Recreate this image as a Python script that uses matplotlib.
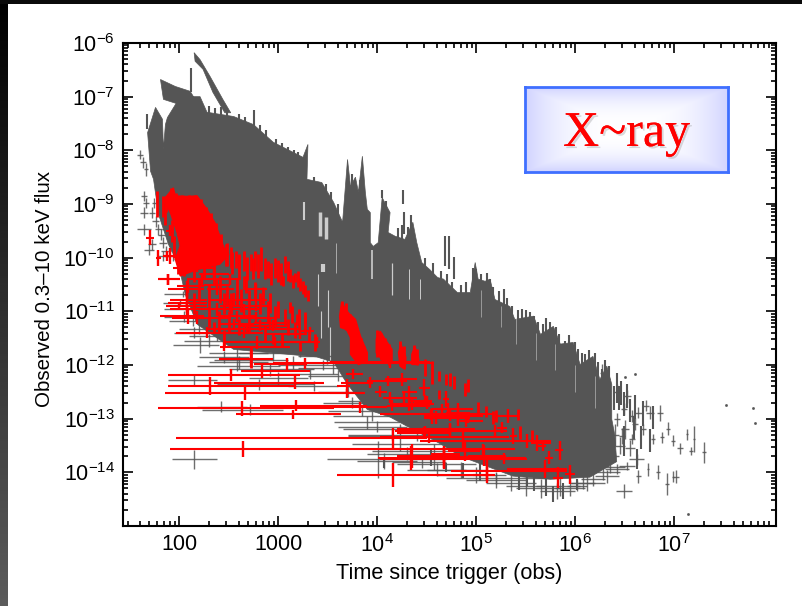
import numpy as np
import matplotlib.pyplot as plt
from matplotlib import patheffects as pe
from matplotlib.ticker import FixedLocator, NullFormatter

plt.rcParams["font.family"] = ["Liberation Sans", "DejaVu Sans"]
plt.rcParams["mathtext.fontset"] = "custom"
plt.rcParams["mathtext.rm"] = "Liberation Sans"
plt.rcParams["mathtext.default"] = "rm"

# all values below are log10(time) and log10(flux)
x_ticks = [2, 3, 4, 5, 6, 7]
x_labels = ["100", "1000", "$10^{4}$", "$10^{5}$", "$10^{6}$", "$10^{7}$"]
y_ticks = [-6, -7, -8, -9, -10, -11, -12, -13, -14]
y_labels = ["$10^{-%d}$" % (-v) for v in y_ticks]

# gray mass outline
mass = [(1.68, -7.67), (1.76, -7.20), (1.83, -7.42), (1.84, -7.98), (1.86, -7.52), (1.88, -7.39),
        (2.01, -7.00), (2.21, -7.00), (2.28, -7.29), (2.55, -7.37), (2.75, -7.52), (2.95, -7.85),
        (3.25, -8.13), (3.30, -7.89), (3.29, -8.54), (3.44, -8.60), (3.56, -8.97), (3.65, -9.34),
        (3.70, -8.17), (3.73, -8.67), (3.78, -8.50), (3.81, -8.78), (3.85, -8.11), (3.88, -8.78),
        (3.90, -9.10), (3.93, -9.16), (3.93, -9.72), (3.96, -9.79), (4.01, -9.72), (4.05, -8.88),
        (4.13, -9.16), (4.11, -9.53), (4.18, -9.60), (4.28, -9.66), (4.36, -9.34), (4.40, -9.72),
        (4.45, -10.09), (4.53, -10.22), (4.61, -10.37), (4.67, -10.40), (4.81, -10.65), (4.94, -10.65),
        (4.99, -10.09), (5.02, -10.40), (5.09, -10.44), (5.14, -10.40), (5.19, -10.78), (5.34, -10.91),
        (5.39, -11.15), (5.58, -11.09), (5.65, -11.43), (5.78, -11.28), (5.85, -11.61), (5.98, -11.58),
        (6.05, -11.99), (6.18, -11.84), (6.25, -12.27), (6.32, -12.02), (6.37, -12.36), (6.37, -13.01),
        (6.40, -13.3), (6.42, -13.8), (6.15, -14.09), (5.75, -14.13), (5.37, -14.07), (5.14, -13.91),
        (4.84, -13.70), (4.64, -13.47), (4.36, -13.20), (4.13, -12.97), (3.90, -12.83), (3.70, -12.36),
        (3.56, -11.95), (3.39, -11.85), (2.55, -11.71), (2.18, -11.24), (2.06, -10.68), (1.99, -10.12),
        (1.89, -9.75), (1.79, -9.19), (1.74, -8.54), (1.71, -8.39)]
burst_top = [(2.15, -6.18), (2.21, -6.31), (2.31, -6.62), (2.44, -7.05), (2.52, -7.30), (2.46, -7.30),
             (2.34, -6.92), (2.24, -6.49), (2.16, -6.34)]
burst_left = [(1.81, -6.68), (1.96, -6.81), (2.11, -6.90), (2.16, -7.05), (2.01, -7.15), (1.84, -7.05)]

# gray vertical streaks: t, low, high
gray_streaks = [(2.12, -6.46, -6.92), (1.67, -7.33, -7.61), (4.27, -9.15, -9.55), (4.26, -8.73, -9.0),
                (4.68, -9.6, -10.16), (4.73, -9.6, -10.22), (4.78, -9.98, -10.4), (4.05, -8.73, -8.88),
                (5.0, -10.22, -10.59), (5.14, -10.4, -10.71), (5.28, -10.59, -11.02), (5.36, -10.9, -11.33),
                (5.46, -10.96, -11.4), (5.58, -11.09, -11.58), (5.71, -11.12, -11.65), (5.81, -11.3, -11.77),
                (5.9, -11.55, -11.96), (6.0, -11.58, -12.02), (6.1, -11.8, -12.2), (6.2, -11.77, -12.27),
                (6.27, -12.08, -12.58), (6.34, -12.02, -12.52), (6.39, -12.39, -12.83), (6.44, -12.39, -12.83),
                (6.49, -12.51, -12.95), (6.55, -12.64, -13.07), (6.69, -12.67, -13.13), (6.79, -12.76, -13.2),
                (6.59, -12.95, -13.38), (6.67, -13.13, -13.57), (6.76, -13.2, -13.63), (6.49, -13.13, -13.7),
                (6.62, -13.57, -13.94), (5.43, -14.0, -14.32), (5.58, -14.07, -14.35), (5.78, -14.25, -14.56),
                (5.04, -13.76, -14.16), (4.87, -13.82, -14.1), (4.7, -13.82, -14.0), (4.54, -13.57, -13.88),
                (4.07, -13.72, -13.91), (5.51, -14.07, -14.25), (5.71, -14.07, -14.44), (5.88, -14.19, -14.5),
                (6.02, -14.13, -14.32),
                (2.30, -7.18, -7.5), (2.36, -7.22, -7.5), (2.42, -7.2, -7.5), (2.48, -7.26, -7.5), (2.6, -7.32, -7.6),
                (2.66, -7.38, -7.7), (2.76, -7.24, -7.6), (2.82, -7.52, -7.8), (2.88, -7.62, -7.9), (2.98, -7.78, -8.0),
                (3.04, -7.86, -8.1), (3.1, -7.94, -8.2), (3.16, -8.0, -8.2), (3.2, -8.04, -8.25),
                (3.36, -8.5, -8.8), (3.48, -8.62, -9.0), (3.53, -8.78, -9.1), (3.6, -9.0, -9.3),
                (3.75, -8.45, -8.8), (3.83, -8.55, -8.9), (4.09, -8.95, -9.3), (4.21, -9.45, -9.8), (4.25, -9.4, -9.8),
                (4.31, -9.42, -9.8), (4.34, -9.2, -9.6), (4.48, -10.0, -10.4), (4.56, -10.1, -10.5), (4.64, -10.25, -10.6),
                (4.71, -10.3, -10.7), (4.76, -10.45, -10.8), (4.85, -10.5, -10.85), (4.9, -10.45, -10.85),
                (4.97, -10.2, -10.7), (5.05, -10.3, -10.7), (5.11, -10.28, -10.7), (5.17, -10.55, -10.9),
                (5.23, -10.62, -11.0), (5.31, -10.75, -11.1), (5.42, -10.98, -11.4), (5.5, -10.98, -11.4),
                (5.54, -11.02, -11.4), (5.62, -11.2, -11.6), (5.68, -11.24, -11.6), (5.75, -11.2, -11.6),
                (5.84, -11.42, -11.8), (5.94, -11.45, -11.85), (6.03, -11.7, -12.1), (6.07, -11.78, -12.2),
                (6.14, -11.72, -12.2), (6.23, -11.95, -12.4), (6.3, -11.9, -12.4), (6.42, -12.15, -12.7),
                (6.46, -12.3, -12.75), (6.52, -12.35, -12.8), (6.6, -12.55, -13.0)]

# gray crosses: t, flux, left, right, half height
gray_crosses = [(6.52, -12.58, 6.48, 6.56, .12), (6.64, -12.89, 6.59, 6.69, .1), (6.76, -12.89, 6.72, 6.8, .12),
                (6.86, -12.89, 6.83, 6.89, .15), (6.94, -13.19, 6.92, 6.96, .12), (6.99, -13.41, 6.97, 7.01, .1),
                (7.06, -13.55, 7.03, 7.09, .1), (7.13, -13.29, 7.12, 7.14, .1), (7.20, -13.38, 7.19, 7.21, .25),
                (7.17, -13.60, 7.15, 7.19, .08), (7.30, -13.63, 7.28, 7.32, .2), (6.74, -13.94, 6.73, 6.75, .12),
                (6.84, -14.0, 6.82, 6.86, .13), (6.93, -14.22, 6.91, 6.95, .2), (6.99, -14.08, 6.98, 7.0, .1),
                (7.02, -14.08, 6.99, 7.05, .12), (6.49, -14.35, 6.41, 6.57, .13), (5.82, -14.35, 5.64, 6.0, .15),
                (6.64, -14.07, 6.61, 6.67, .12), (6.57, -13.38, 6.54, 6.6, .1), (6.69, -13.2, 6.66, 6.72, .1),
                (6.79, -13.38, 6.77, 6.81, .1), (6.88, -13.35, 6.86, 6.9, .1), (6.47, -13.32, 6.44, 6.5, .15),
                (6.39, -13.7, 6.34, 6.44, .1), (6.52, -13.88, 6.44, 6.6, .08), (6.62, -13.76, 6.54, 6.7, .1),
                (6.42, -13.94, 6.3, 6.54, .1), (6.32, -14.07, 6.2, 6.44, .12), (6.18, -14.13, 6.06, 6.3, .13),
                (6.08, -14.19, 5.96, 6.2, .12), (6.02, -14.25, 5.92, 6.12, .1), (6.32, -12.27, 6.29, 6.35, .15),
                (6.42, -12.51, 6.39, 6.45, .15), (6.27, -12.14, 6.25, 6.29, .15), (6.49, -12.82, 6.46, 6.52, .12),
                (6.57, -12.95, 6.54, 6.6, .12), (6.35, -13.2, 6.32, 6.38, .15), (6.42, -13.01, 6.39, 6.45, .12),
                (6.72, -12.76, 6.69, 6.75, .1), (6.22, -13.88, 6.1, 6.34, .1),
                (2.15, -13.76, 1.93, 2.38, .17), (2.42, -12.78, 2.18, 2.68, .1), (2.71, -12.83, 2.23, 3.05, .1),
                (2.145, -12.28, 1.89, 2.38, .1), (2.81, -12.36, 2.38, 3.36, .1), (2.58, -12.02, 2.18, 3.02, .1),
                (2.92, -12.08, 2.5, 3.36, .12), (3.32, -12.17, 3.0, 3.6, .1), (3.36, -12.39, 3.1, 3.6, .1),
                (4.01, -13.76, 3.49, 4.7, .35), (4.07, -13.79, 3.8, 4.4, .15), (3.9, -13.07, 3.56, 4.23, .12),
                (4.23, -13.2, 3.65, 4.8, .1), (4.4, -13.32, 3.7, 5.0, .1), (4.23, -13.48, 3.75, 4.7, .12),
                (4.57, -13.6, 3.95, 5.0, .12), (4.57, -13.85, 4.2, 5.0, .1), (3.9, -12.67, 3.6, 4.2, .1),
                (2.21, -11.62, 1.94, 2.4, .15), (5.2, -14.11, 4.7, 5.71, .1),
                (1.64, -8.85, 1.61, 1.67, .1), (1.66, -8.98, 1.63, 1.69, .1), (1.64, -9.16, 1.6, 1.68, .1),
                (1.64, -9.47, 1.57, 1.71, .1), (1.69, -9.85, 1.64, 1.74, .1), (1.72, -9.75, 1.68, 1.76, .1),
                (1.72, -9.16, 1.69, 1.75, .1), (1.76, -9.32, 1.72, 1.8, .1), (1.79, -9.47, 1.75, 1.83, .1),
                (1.82, -9.57, 1.78, 1.86, .1), (1.84, -9.72, 1.8, 1.88, .1), (1.87, -9.88, 1.82, 1.92, .1),
                (1.94, -9.97, 1.88, 2.0, .1), (1.84, -9.97, 1.78, 1.9, .1), (1.87, -9.47, 1.83, 1.91, .1),
                (1.94, -9.78, 1.9, 1.98, .1), (1.74, -8.98, 1.72, 1.76, .1), (2.01, -10.03, 1.95, 2.07, .1),
                (1.60, -8.08, 1.57, 1.63, .08), (1.63, -8.22, 1.6, 1.66, .1), (1.66, -8.35, 1.64, 1.68, .12),
                (2.04, -10.68, 1.85, 2.3, .06), (2.01, -10.84, 1.84, 2.25, .06), (2.08, -10.96, 1.85, 2.35, .08),
                (2.14, -11.18, 1.9, 2.4, .1), (2.2, -11.33, 2.0, 2.5, .1), (2.38, -11.46, 2.1, 2.7, .1),
                (2.58, -11.77, 2.3, 2.9, .15), (2.95, -11.77, 2.6, 3.3, .15), (2.72, -11.9, 2.35, 3.1, .12),
                (3.22, -11.71, 2.9, 3.5, .15), (3.15, -11.96, 2.75, 3.5, .12), (3.49, -11.83, 3.2, 3.6, .15),
                (6.40, -13.3, 6.36, 6.44, .2), (6.45, -13.5, 6.4, 6.5, .15), (6.5, -13.2, 6.46, 6.54, .18),
                (6.55, -13.55, 6.5, 6.6, .15), (6.6, -13.1, 6.57, 6.63, .12), (6.35, -13.9, 6.2, 6.5, .12),
                (6.28, -14.0, 6.1, 6.45, .15), (6.12, -14.2, 5.95, 6.3, .15), (5.95, -14.3, 5.8, 6.1, .15),
                (5.85, -14.25, 5.6, 6.05, .2), (5.65, -14.3, 5.4, 5.85, .18), (5.5, -14.25, 5.3, 5.7, .2),
                (5.35, -14.2, 5.1, 5.6, .15), (5.2, -14.15, 4.9, 5.5, .15), (5.0, -14.05, 4.6, 5.3, .15),
                (4.85, -13.95, 4.5, 5.1, .15), (4.6, -13.95, 4.3, 4.9, .12), (4.45, -13.8, 4.15, 4.7, .12),
                (4.3, -13.65, 3.9, 4.6, .12), (4.15, -13.3, 3.7, 4.5, .1), (4.0, -13.15, 3.6, 4.3, .1),
                (3.95, -12.95, 3.55, 4.2, .1), (3.85, -12.85, 3.5, 4.1, .1), (3.75, -12.7, 3.45, 4.0, .1),
                (3.7, -12.5, 3.4, 3.95, .1), (3.6, -12.2, 3.3, 3.85, .1), (3.55, -12.05, 3.2, 3.8, .12),
                (3.45, -12.0, 3.0, 3.7, .1), (3.0, -12.25, 2.7, 3.3, .12), (2.6, -11.95, 2.3, 2.9, .12),
                (2.45, -11.85, 2.2, 2.7, .12), (2.3, -11.55, 2.05, 2.6, .12), (2.15, -11.4, 1.95, 2.4, .1),
                (2.05, -11.1, 1.85, 2.3, .1)]

# pale slits inside the gray mass: t, low, high, width
gaps = [(3.26, -8.97, -9.29, 1.5), (3.42, -9.15, -9.6, 2.5), (3.48, -9.25, -9.65, 2.5), (3.45, -10.12, -10.26, 3.0),
        (3.40, -10.3, -10.9, .8), (3.5, -10.6, -11.3, .8), (3.43, -11.0, -11.5, .8), (3.52, -11.3, -11.9, .8),
        (3.95, -9.85, -10.4, 1.2), (4.15, -10.1, -10.7, .9), (4.32, -10.22, -10.77, .7), (4.43, -10.4, -10.77, .7),
        (3.58, -9.72, -10.28, .5), (5.4, -11.1, -11.6, .4), (5.6, -11.4, -11.9, .4), (5.8, -11.6, -12.1, .4),
        (6.0, -12.0, -12.5, .4), (6.2, -12.2, -12.8, .4), (5.25, -10.9, -11.3, .4), (5.05, -10.6, -11.1, .4)]

# stray points
dots_t = [6.50, 6.60, 7.52, 7.80, 7.82, 7.14]
dots_f = [-12.22, -12.17, -12.75, -12.80, -13.09, -14.78]

# red dense parts
red_clump = [(1.84, -8.91), (1.86, -8.88), (1.94, -8.70), (1.96, -8.85), (2.08, -8.86), (2.18, -8.85),
             (2.28, -9.10), (2.36, -9.35), (2.41, -9.60), (2.45, -9.81), (2.50, -9.94), (2.41, -10.12),
             (2.18, -10.22), (2.01, -10.34), (1.96, -10.03), (2.01, -9.78), (1.98, -9.54), (1.91, -9.16)]
red_strand1 = [(3.64, -10.84), (3.71, -11.03), (3.78, -11.15), (3.83, -11.46), (3.90, -11.77), (3.90, -11.93),
               (3.81, -11.99), (3.73, -11.80), (3.73, -11.49), (3.69, -11.34), (3.63, -11.30), (3.62, -11.09)]
red_strand2 = [(4.03, -11.37), (4.08, -11.52), (4.15, -11.71), (4.15, -11.96), (4.06, -11.93), (3.99, -11.77),
               (3.99, -11.52)]
red_strand3 = [(4.24, -11.615), (4.29, -11.86), (4.28, -12.08), (4.23, -12.02), (4.215, -11.77)]
red_strand4 = [(4.38, -11.65), (4.42, -11.89), (4.41, -11.99), (4.35, -11.99), (4.35, -11.80)]

# red short bars: t, flux, half height
red_bars = [(2.48, -9.94, .22), (2.57, -10.03, .16), (2.65, -10.06, .19), (2.72, -10.09, .16), (2.77, -10.06, .19),
            (2.83, -10.03, .22), (2.90, -10.22, .16), (2.97, -10.19, .19), (3.07, -10.12, .16), (3.05, -10.43, .09),
            (3.12, -10.34, .12), (3.17, -10.37, .09), (3.22, -10.50, .12), (3.27, -10.62, .12), (2.41, -10.59, .25),
            (2.48, -10.71, .19), (2.58, -10.65, .25), (2.67, -10.50, .16), (2.77, -10.62, .16), (2.85, -10.71, .16),
            (2.92, -10.84, .19), (3.00, -10.96, .16), (3.07, -11.12, .16), (3.14, -11.06, .16), (3.21, -11.15, .19),
            (3.27, -11.21, .19), (3.31, -11.46, .09), (3.37, -11.58, .16), (2.95, -11.52, .09), (3.04, -11.52, .12),
            (3.22, -11.65, .09), (2.72, -11.86, .19), (4.48, -12.05, .16), (4.55, -12.14, .22), (4.62, -12.2, .09),
            (4.69, -12.27, .11), (4.74, -12.27, .12), (4.78, -12.33, .12), (4.89, -12.45, .12), (4.92, -12.39, .12),
            (4.62, -12.55, .09), (5.44, -13.26, .12), (5.56, -13.32, .1), (5.02, -12.79, .1), (5.1, -12.86, .1),
            (5.17, -12.98, .12), (5.2, -12.95, .12), (5.42, -12.92, .1), (1.77, -9.0, .25), (3.12, -10.93, .1),
            (3.27, -11.15, .06), (3.19, -11.15, .1), (2.65, -10.47, .12),
            (1.87, -9.0, .15), (1.92, -8.9, .2), (1.97, -8.95, .15), (2.03, -8.95, .12), (2.1, -8.95, .12),
            (2.16, -8.95, .12), (2.22, -9.05, .15), (2.27, -9.2, .15), (2.32, -9.35, .18), (2.37, -9.55, .2),
            (2.42, -9.75, .2), (2.47, -9.95, .2), (2.52, -10.0, .2), (2.6, -10.1, .15), (1.84, -9.05, .2),
            (1.86, -9.2, .2), (1.93, -9.5, .2), (1.95, -9.8, .2), (1.99, -10.1, .2), (2.05, -10.15, .2),
            (2.15, -10.3, .15), (2.25, -10.25, .15), (2.35, -10.3, .2),
            (2.53, -10.1, .2), (2.6, -10.15, .22), (2.68, -10.2, .22), (2.74, -10.2, .2), (2.8, -10.15, .22),
            (2.87, -10.2, .2), (2.93, -10.3, .2), (3.0, -10.25, .2), (3.03, -10.3, .2), (3.1, -10.25, .18),
            (3.15, -10.45, .12), (3.2, -10.4, .15), (3.25, -10.55, .12), (3.3, -10.7, .1),
            (2.45, -10.85, .2), (2.52, -10.85, .2), (2.62, -10.8, .22), (2.7, -10.8, .2), (2.82, -10.85, .2),
            (2.9, -11.0, .2), (2.97, -11.1, .2), (3.1, -11.3, .15), (3.17, -11.35, .15), (2.5, -11.2, .2),
            (2.6, -11.3, .15), (2.7, -11.2, .2), (2.87, -11.4, .15), (2.3, -10.7, .2), (2.2, -10.6, .2),
            (2.15, -10.85, .2), (2.3, -11.1, .2), (2.4, -11.2, .2), (2.45, -11.5, .15), (2.35, -11.3, .1),
            (3.64, -11.0, .2), (3.68, -11.1, .25), (3.72, -11.25, .2), (3.76, -11.35, .2), (3.8, -11.55, .2),
            (3.84, -11.7, .2), (3.87, -11.8, .15), (4.0, -11.6, .25), (4.04, -11.65, .25), (4.08, -11.7, .2),
            (4.12, -11.8, .2), (4.23, -11.75, .2), (4.27, -11.85, .2), (4.37, -11.8, .18), (4.4, -11.85, .15)]

# red crosses: t, flux, left, right, half height
red_crosses = [(2.52, -12.18, 1.89, 3.22, .11), (2.31, -12.39, 1.89, 3.17, .17), (3.17, -12.33, 2.35, 3.46, .12),
               (2.66, -12.53, 1.86, 3.86, .13), (2.63, -12.81, 1.79, 3.56, .14), (3.18, -12.76, 2.82, 3.9, .1),
               (3.15, -12.92, 2.57, 3.63, .08), (2.64, -13.57, 1.91, 4.23, .15), (4.16, -13.36, 1.97, 4.5, .18),
               (4.16, -14.05, 3.59, 5.19, .23), (4.34, -13.73, 4.01, 5.0, .22), (4.67, -13.72, 4.3, 5.0, .2),
               (4.35, -13.69, 4.2, 4.84, .22), (4.67, -13.66, 4.54, 4.84, .15), (4.89, -13.6, 4.72, 5.04, .18),
               (5.08, -13.69, 4.92, 5.3, .2), (5.28, -13.74, 5.0, 5.5, .1), (5.11, -13.97, 4.75, 5.92, .2),
               (5.11, -14.05, 4.97, 5.19, .15), (5.70, -13.94, 5.31, 5.92, .17), (5.83, -14.1, 5.78, 5.88, .2),
               (5.95, -14.04, 5.9, 6.0, .18), (5.85, -13.59, 5.8, 5.88, .18), (5.74, -13.73, 5.70, 5.78, .12),
               (5.68, -13.5, 5.61, 5.71, .1), (5.61, -13.45, 5.55, 5.76, .15), (5.51, -13.41, 5.48, 5.55, .13),
               (5.37, -13.32, 5.34, 5.41, .15), (5.19, -13.23, 4.57, 5.31, .12), (4.74, -13.2, 4.2, 4.99, .12),
               (4.47, -13.26, 4.2, 4.74, .1), (4.52, -13.35, 4.03, 5.33, .1), (4.87, -13.42, 4.43, 5.76, .2),
               (4.82, -12.95, 4.47, 5.07, .18), (4.59, -12.98, 4.47, 4.8, .12), (4.9, -13.04, 4.84, 5.07, .12),
               (4.54, -12.92, 4.03, 5.17, .1), (4.72, -12.82, 4.57, 4.97, .12), (4.65, -12.82, 4.54, 4.8, .1),
               (4.32, -12.73, 4.13, 4.57, .12), (4.5, -12.7, 4.37, 4.55, .12), (5.32, -12.95, 5.19, 5.43, .13),
               (5.26, -13.17, 5.21, 5.31, .1), (4.67, -13.76, 4.03, 5.51, .18), (5.07, -13.57, 4.03, 5.39, .1),
               (1.89, -10.4, 1.78, 2.01, .1), (2.09, -10.53, 1.98, 2.25, .12), (2.08, -10.84, 1.89, 2.28, .2),
               (2.08, -10.96, 1.91, 2.26, .1), (2.09, -11.09, 1.81, 2.25, .15), (2.18, -11.12, 1.93, 2.52, .12),
               (2.38, -10.96, 2.21, 2.72, .12), (2.28, -11.4, 1.97, 2.72, .1), (2.45, -11.66, 2.41, 3.12, .08),
               (2.72, -11.89, 2.4, 2.95, .15), (2.84, -12.11, 2.62, 3.32, .13), (3.09, -11.99, 2.75, 3.29, .12),
               (3.27, -11.97, 2.95, 4.57, .1), (3.39, -11.58, 3.09, 3.42, .1), (3.32, -11.37, 3.22, 3.36, .08),
               (3.22, -11.43, 2.88, 3.29, .08), (2.97, -11.58, 2.45, 3.39, .1), (2.79, -11.58, 2.55, 2.99, .12),
               (2.68, -11.33, 2.28, 3.22, .1), (2.95, -11.27, 2.65, 3.09, .1), (2.78, -10.59, 2.65, 2.89, .1),
               (2.55, -10.78, 2.31, 2.89, .12), (2.38, -10.59, 2.28, 2.55, .1),
               (1.70, -9.63, 1.66, 1.74, .14), (1.91, -9.5, 1.87, 1.95, .1), (1.79, -10.0, 1.76, 1.82, .15),
               (1.91, -9.97, 1.85, 1.97, .15), (1.88, -9.97, 1.84, 1.92, .1), (1.89, -10.4, 1.79, 2.01, .1),
               (2.04, -10.2, 1.94, 2.21, .08), (2.08, -10.59, 1.89, 2.25, .15), (2.08, -10.78, 1.91, 2.28, .1),
               (2.0, -10.9, 1.87, 2.28, .05), (2.18, -10.19, 2.01, 2.35, .08), (2.23, -10.4, 2.08, 2.41, .1),
               (2.38, -10.5, 2.25, 2.51, .1), (2.35, -10.3, 2.2, 2.5, .1), (2.51, -10.4, 2.4, 2.62, .1),
               (2.51, -10.9, 2.41, 2.65, .1), (2.65, -10.96, 2.51, 2.82, .1), (2.78, -10.9, 2.61, 2.92, .1),
               (2.58, -11.09, 2.41, 2.78, .1), (2.78, -11.12, 2.61, 2.99, .1), (2.55, -11.24, 2.41, 2.75, .1),
               (2.82, -11.27, 2.61, 3.05, .1), (2.65, -11.4, 2.41, 2.85, .1), (2.92, -11.21, 2.75, 3.09, .1),
               (3.93, -12.33, 3.63, 3.96, .1), (3.76, -12.17, 3.68, 3.86, .1), (4.11, -12.3, 3.9, 4.3, .1),
               (4.25, -12.27, 4.08, 4.4, .12), (4.27, -12.61, 4.2, 4.4, .1), (4.13, -12.61, 4.06, 4.2, .1),
               (4.03, -12.5, 3.98, 4.1, .1), (4.32, -12.5, 4.25, 4.4, .1), (4.48, -12.67, 4.33, 4.55, .12),
               (4.47, -12.42, 4.42, 4.53, .15), (4.35, -12.73, 4.2, 4.53, .1), (3.69, -12.39, 3.59, 3.73, .12),
               (3.83, -12.79, 3.525, 4.1, .1), (4.15, -12.76, 4.1, 4.53, .1), (4.55, -12.95, 4.47, 4.64, .15),
               (4.74, -12.92, 4.64, 4.94, .12), (4.82, -12.89, 4.7, 4.94, .18), (4.92, -12.98, 4.8, 4.94, .1),
               (4.48, -13.23, 4.18, 4.74, .1), (4.74, -13.2, 4.67, 4.77, .1), (4.13, -11.95, 3.525, 4.53, .1),
               (3.69, -12.53, 3.525, 3.88, .08), (4.69, -12.64, 4.66, 4.73, .15)]

gray = "#555555"
red = "#ff0000"

fig = plt.figure(figsize=(8.02, 6.06), dpi=100, facecolor="white")

# dark slide edge at top and left
bg = fig.add_axes([0, 0, 1, 1], zorder=-1)
bg.axis("off")
bg.imshow(np.linspace(0, 0.36, 256).reshape(-1, 1), cmap="gray", vmin=0, vmax=1, aspect="auto",
          extent=[0, 8 / 802, 0, 1])
bg.axhspan(1 - 4 / 606, 1, color="#0a0a0a", lw=0)
bg.set_xlim(0, 1)
bg.set_ylim(0, 1)

ax = fig.add_axes([123 / 802, 80 / 606, 653 / 802, 483 / 606])
ax.set_xscale("log")
ax.set_yscale("log")
ax.set_xlim(27, 1.07e8)
ax.set_ylim(1e-15, 1e-6)


def lin(v):
    return 10.0 ** np.asarray(v, dtype=float)


for shape in [mass, burst_top, burst_left]:
    t, f = zip(*shape)
    ax.fill(lin(t), lin(f), color=gray, lw=0.5, zorder=2)

t, lo, hi = zip(*gray_streaks)
ax.vlines(lin(t), lin(lo), lin(hi), color=gray, lw=1.5, zorder=2)

t, lo, hi, w = zip(*gaps)
ax.vlines(lin(t), lin(lo), lin(hi), color="white", lw=w, alpha=0.7, zorder=2.5)

t, f, l, r, df = zip(*gray_crosses)
t, f, df = np.array(t), np.array(f), np.array(df)
ax.hlines(lin(f), lin(l), lin(r), color=gray, lw=1.0, alpha=0.85, zorder=3)
ax.vlines(lin(t), lin(f - df), lin(f + df), color=gray, lw=1.0, alpha=0.85, zorder=3)

ax.plot(lin(dots_t), lin(dots_f), ls="none", marker="s", ms=0.9, color=gray, zorder=3)

for shape in [red_clump, red_strand1, red_strand2, red_strand3, red_strand4]:
    t, f = zip(*shape)
    ax.fill(lin(t), lin(f), color=red, lw=1, zorder=4)

t, f, df = zip(*red_bars)
t, f, df = np.array(t), np.array(f), np.array(df)
ax.vlines(lin(t), lin(f - df), lin(f + df), color=red, lw=2.0, zorder=5)

t, f, l, r, df = zip(*red_crosses)
t, f, df = np.array(t), np.array(f), np.array(df)
ax.hlines(lin(f), lin(l), lin(r), color=red, lw=1.5, zorder=5)
ax.vlines(lin(t), lin(f - df), lin(f + df), color=red, lw=1.7, zorder=5)

# axes, ticks
for s in ax.spines.values():
    s.set_linewidth(1.5)
    s.set_zorder(6)
ax.xaxis.set_major_locator(FixedLocator(lin(x_ticks)))
ax.yaxis.set_major_locator(FixedLocator(lin(y_ticks)))
ax.xaxis.set_minor_locator(FixedLocator([m * 10.0 ** d for d in range(1, 8) for m in range(2, 10)
                                         if 27 < m * 10.0 ** d < 1.07e8]))
ax.yaxis.set_minor_locator(FixedLocator([m * 10.0 ** d for d in range(-15, -6) for m in range(2, 10)]))
ax.xaxis.set_minor_formatter(NullFormatter())
ax.yaxis.set_minor_formatter(NullFormatter())
ax.set_xticklabels(x_labels)
ax.set_yticklabels(y_labels)
ax.tick_params(which="major", direction="in", top=True, right=True, length=7.5, width=1.2, labelsize=15.5, pad=6)
ax.tick_params(which="minor", direction="in", top=True, right=True, length=3.8, width=1.2)
ax.set_xlabel("Time since trigger (obs)", fontsize=15.6)
ax.set_ylabel("Observed 0.3\u201310 keV flux", fontsize=14.8)
ax.xaxis.set_label_coords(0.5, -0.076)
ax.yaxis.set_label_coords(-0.106, 0.49)

# label box with soft glow
box = fig.add_axes([525 / 802, (606 - 172) / 606, 203 / 802, 85 / 606], zorder=7)
u = np.abs(np.linspace(-1, 1, 203))
v = np.abs(np.linspace(-1, 1, 85))
edge = np.maximum.outer(v, u) ** 2.5
glow = np.ones((85, 203, 3))
glow[..., 0] -= 0.18 * edge
glow[..., 1] -= 0.17 * edge
box.imshow(glow, aspect="auto", extent=[0, 1, 0, 1])
box.set_xticks([])
box.set_yticks([])
for s in box.spines.values():
    s.set_color("#3f6fff")
    s.set_linewidth(2.0)
box.text(0.5, 0.45, "X~ray", color=red, fontsize=36, family="Liberation Serif", ha="center", va="center",
         path_effects=[pe.withSimplePatchShadow(offset=(1.5, -1.5), shadow_rgbFace="#888888", alpha=0.3), pe.Normal()])

fig.savefig("out.png", dpi=100)
